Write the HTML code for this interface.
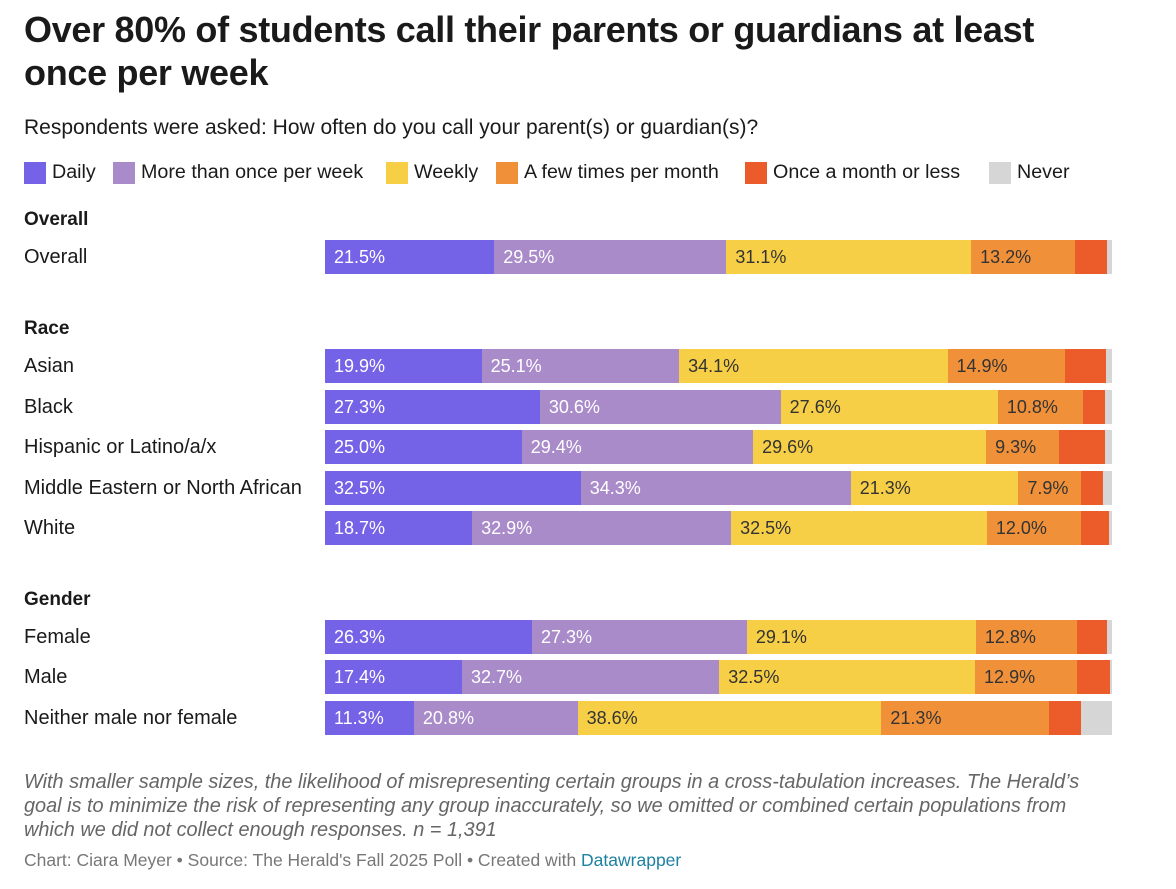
<!DOCTYPE html>
<html><head><meta charset="utf-8">
<style>
body{margin:0;width:1176px;height:889px;background:#fff;font-family:"Liberation Sans",sans-serif;color:#1a1a1a;position:relative;overflow:hidden}
.abs{position:absolute}
h1{position:absolute;left:24px;top:8px;margin:0;font-size:36px;line-height:43px;font-weight:bold;width:1040px;letter-spacing:-0.3px}
.sub{left:24px;top:116px;font-size:21px}
.leg{top:161px;font-size:19.7px;display:flex;align-items:center}
.sw{width:22px;height:22px;margin-right:6px}
.grp{left:24px;font-size:19px;font-weight:bold}
.lab{left:24px;font-size:20px}
.seg{position:absolute;height:34px;color:#fff;font-size:18px;line-height:34px;box-sizing:border-box;white-space:nowrap;overflow:hidden}
.note{left:24px;top:770px;width:1068px;font-size:19.9px;font-style:italic;color:#666;line-height:24px}
.foot{left:24px;top:850px;font-size:17.5px;color:#777}
</style></head><body>
<h1>Over 80% of students call their parents or guardians at least once per week</h1>
<div class="abs sub">Respondents were asked: How often do you call your parent(s) or guardian(s)?</div>
<div id="legend"></div>
<div id="chart"></div>
<div class="abs note">With smaller sample sizes, the likelihood of misrepresenting certain groups in a cross-tabulation increases. The Herald’s goal is to minimize the risk of representing any group inaccurately, so we omitted or combined certain populations from which we did not collect enough responses. n = 1,391</div>
<div class="abs foot">Chart: Ciara Meyer • Source: The Herald's Fall 2025 Poll • Created with <span style="color:#1d81a2">Datawrapper</span></div>
<script>
const seriesNames=["Daily","More than once per week","Weekly","A few times per month","Once a month or less","Never"];
const colors=["#7462e7","#a98bca","#f7cf47","#f0913a","#ec5c2b","#d6d6d6"];
const textColors=["#fff","#fff","#333","#333","#fff","#333"];
const categories=["Overall","Asian","Black","Hispanic or Latino/a/x","Middle Eastern or North African","White","Female","Male","Neither male nor female"];
const groups=["Overall","Race","Gender"];
const groupOf=[0,1,1,1,1,1,2,2,2];
const daily=[21.5,19.9,27.3,25.0,32.5,18.7,26.3,17.4,11.3];
const moreThanWeekly=[29.5,25.1,30.6,29.4,34.3,32.9,27.3,32.7,20.8];
const weekly=[31.1,34.1,27.6,29.6,21.3,32.5,29.1,32.5,38.6];
const fewMonthly=[13.2,14.9,10.8,9.3,7.9,12.0,12.8,12.9,21.3];
const monthlyOrLess=[4.1,5.3,2.8,5.8,2.9,3.5,3.9,4.3,4.1];
const never=[0.6,0.7,0.9,0.9,1.1,0.4,0.6,0.2,3.9];
const series=[daily,moreThanWeekly,weekly,fewMonthly,monthlyOrLess,never];

const x0=325,W=787;
const rowY=[240,349,390,430,471,511,620,660,701];
const groupY=[209,318,589];

const leg=document.getElementById('legend');
const legX=[24,113,386,496,745,989];
seriesNames.forEach((n,i)=>{
  const d=document.createElement('div');
  d.className='abs leg';d.style.left=legX[i]+'px';
  
  
  d.innerHTML='<div class="sw" style="background:'+colors[i]+'"></div>'+n;
  leg.appendChild(d);
});
const ch=document.getElementById('chart');
groups.forEach((g,i)=>{
  const d=document.createElement('div');d.className='abs grp';d.style.top=groupY[i]+'px';d.textContent=g;
  
  
  ch.appendChild(d);
});
categories.forEach((c,r)=>{
  const y=rowY[r];
  let total=0;series.forEach(s=>total+=s[r]);
  const xs=v=>v/total*W;
  const l=document.createElement('div');l.className='abs lab';l.style.top=(y+6)+'px';l.textContent=c;
  
  
  ch.appendChild(l);
  let acc=0;
  series.forEach((s,i)=>{
    const v=s[r];
    const d=document.createElement('div');d.className='seg';
    d.style.left=(x0+xs(acc))+'px';d.style.top=y+'px';d.style.width=xs(v)+'px';
    d.style.background=colors[i];d.style.color=textColors[i];
    if(i<4){d.textContent=v.toFixed(1)+'%';d.style.paddingLeft='9px';}
    
    
    ch.appendChild(d);acc+=v;
  });
});
</script>
</body></html>
